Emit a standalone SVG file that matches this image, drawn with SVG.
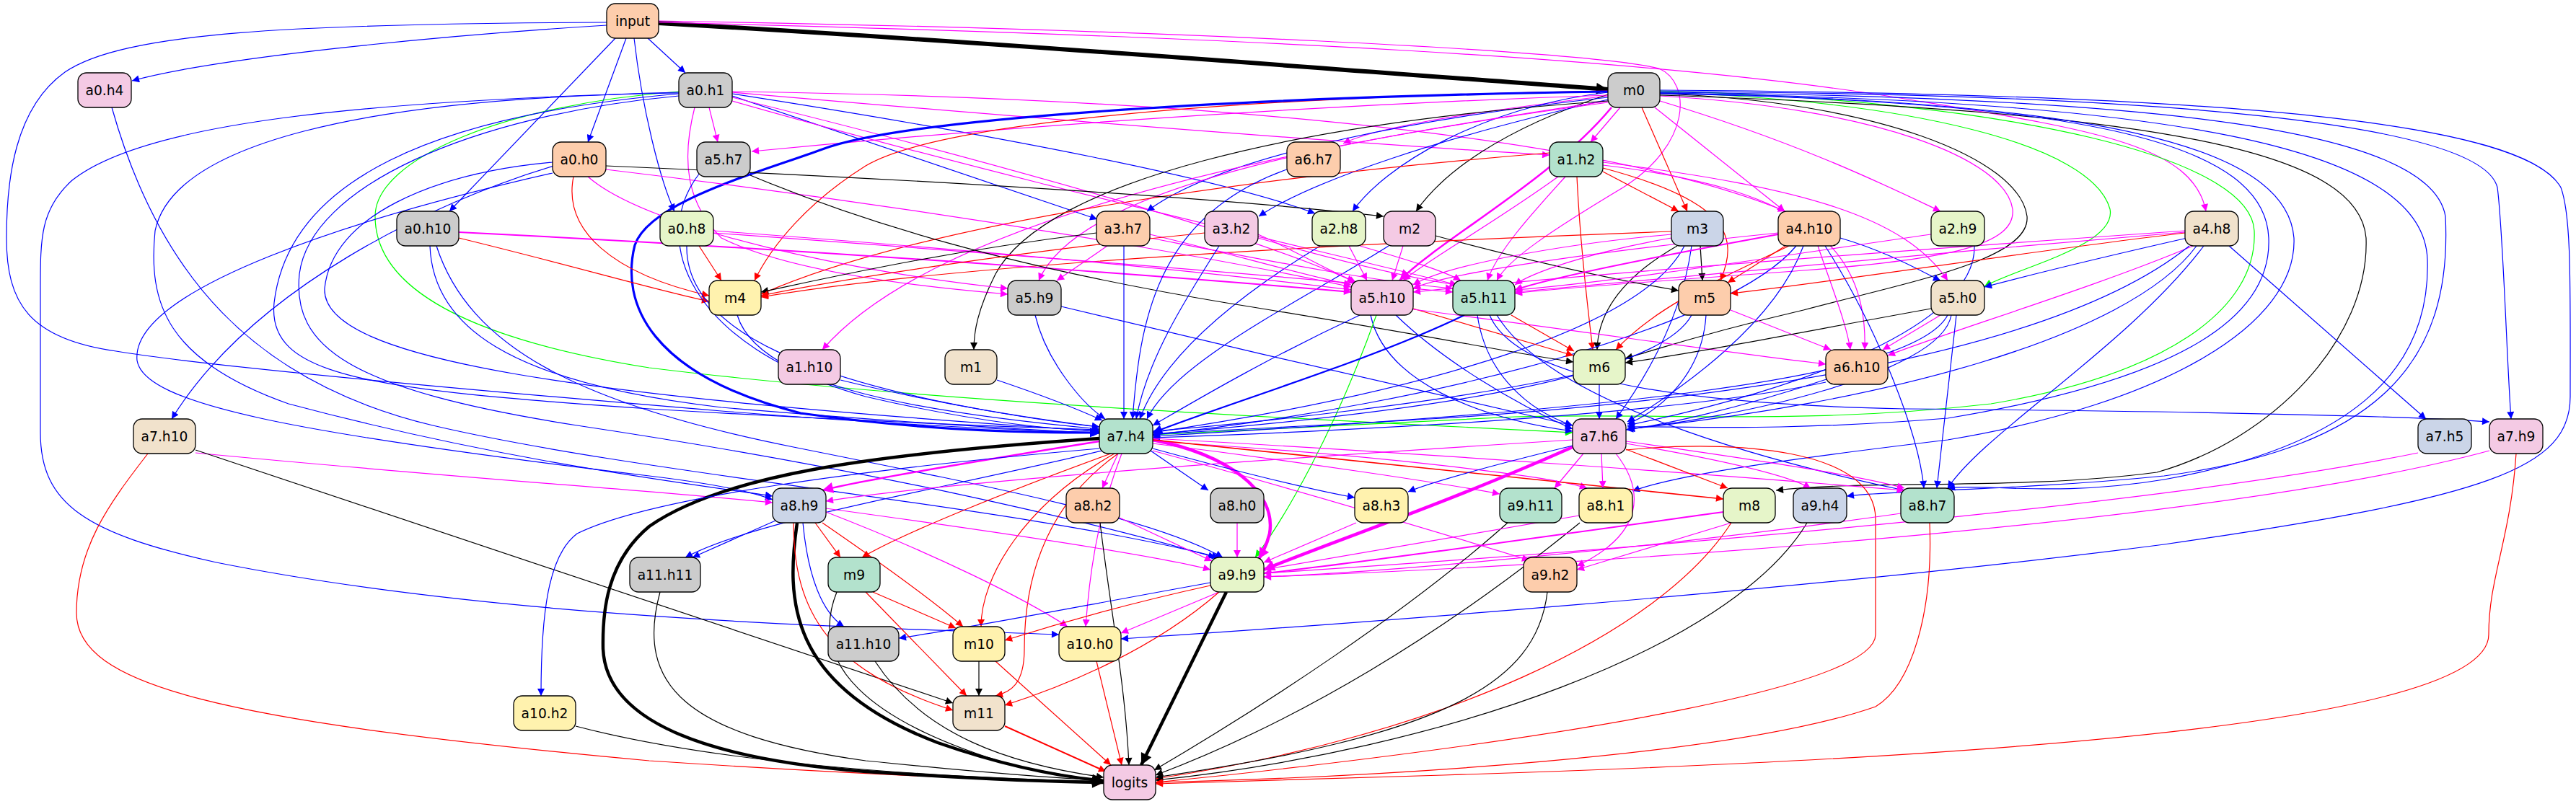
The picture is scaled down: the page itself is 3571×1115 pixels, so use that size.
<svg xmlns="http://www.w3.org/2000/svg" width="3571" height="1115" viewBox="0 0 3571 1115">
<style>
.e{fill:none;stroke-width:1.2}
.k{stroke:#000;marker-end:url(#ak)}
.b{stroke:#0000ff;marker-end:url(#ab)}
.r{stroke:#ff0000;marker-end:url(#ar)}
.m{stroke:#ff00ff;marker-end:url(#am)}
.g{stroke:#00ff00;marker-end:url(#ag)}
.K{marker-end:url(#AK)}
.B{marker-end:url(#AB)}
.M{marker-end:url(#AM)}
.n rect{stroke:#000;stroke-width:1.3}
.n text{font-family:"DejaVu Sans","Liberation Sans",sans-serif;font-size:18.67px;text-anchor:middle;fill:#000}
.c1{fill:#fdcdac}.c2{fill:#cccccc}.c3{fill:#f4cae4}.c4{fill:#b3e2cd}
.c5{fill:#e6f5c9}.c6{fill:#cbd5e8}.c7{fill:#f1e2cc}.c8{fill:#fff2ae}
</style>
<defs>
<marker id="ak" viewBox="0 0 10 10" refX="10" refY="5" markerWidth="13" markerHeight="10" markerUnits="userSpaceOnUse" orient="auto"><path d="M0,0L10,5L0,10z" fill="#000"/></marker>
<marker id="ab" viewBox="0 0 10 10" refX="10" refY="5" markerWidth="13" markerHeight="10" markerUnits="userSpaceOnUse" orient="auto"><path d="M0,0L10,5L0,10z" fill="#0000ff"/></marker>
<marker id="ar" viewBox="0 0 10 10" refX="10" refY="5" markerWidth="13" markerHeight="10" markerUnits="userSpaceOnUse" orient="auto"><path d="M0,0L10,5L0,10z" fill="#ff0000"/></marker>
<marker id="am" viewBox="0 0 10 10" refX="10" refY="5" markerWidth="13" markerHeight="10" markerUnits="userSpaceOnUse" orient="auto"><path d="M0,0L10,5L0,10z" fill="#ff00ff"/></marker>
<marker id="ag" viewBox="0 0 10 10" refX="10" refY="5" markerWidth="13" markerHeight="10" markerUnits="userSpaceOnUse" orient="auto"><path d="M0,0L10,5L0,10z" fill="#00ff00"/></marker>
<marker id="AK" viewBox="0 0 10 10" refX="10" refY="5" markerWidth="22" markerHeight="16" markerUnits="userSpaceOnUse" orient="auto"><path d="M0,0L10,5L0,10z" fill="#000"/></marker>
<marker id="AB" viewBox="0 0 10 10" refX="10" refY="5" markerWidth="18" markerHeight="13" markerUnits="userSpaceOnUse" orient="auto"><path d="M0,0L10,5L0,10z" fill="#0000ff"/></marker>
<marker id="AM" viewBox="0 0 10 10" refX="10" refY="5" markerWidth="20" markerHeight="15" markerUnits="userSpaceOnUse" orient="auto"><path d="M0,0L10,5L0,10z" fill="#ff00ff"/></marker>
</defs>
<rect width="3571" height="1115" fill="#fff"/>
<g id="edges">
<path class="e k K" style="stroke-width:6" d="M913,32 C1400,60 1900,100 2229,124"/>
<path class="e b" d="M898,53 L950,101"/>
<path class="e b" d="M841,35 C600,50 300,80 183,112"/>
<path class="e b" d="M868,53 L815,197"/>
<path class="e b" d="M853,53 L623,293"/>
<path class="e b" d="M879,53 C890,150 915,250 935,293"/>
<path class="e b" d="M841,31 C400,33 170,45 90,100 C20,150 9,250 9,330 C9,420 40,470 161,487 C300,510 700,545 1000,570 C1250,590 1400,596 1524,600"/>
<path class="e m" d="M913,29 C1600,40 2200,70 2300,95 C2345,115 2345,200 2250,260 C2150,320 2090,360 2075,389"/>
<path class="e m" d="M913,31 C1700,50 2300,80 2640,137 C2900,180 3040,200 3058,293"/>
<path class="e b" d="M155,149 C220,380 350,530 600,590 C900,660 1400,700 1690,773"/>
<path class="e m" d="M983,149 L995,197"/>
<path class="e b" d="M1015,133 L1521,304"/>
<path class="e b" d="M1015,130 C1400,190 1700,250 1823,296"/>
<path class="e m" d="M1015,128 C1500,170 1900,200 2148,215"/>
<path class="e m" d="M1015,127 C1600,135 2200,180 2475,293"/>
<path class="e m" d="M1015,135 C1400,230 1750,330 1880,392"/>
<path class="e m" d="M1015,140 C1400,250 1800,340 2020,395"/>
<path class="e g" d="M941,127 C700,145 520,220 520,300 C520,400 650,470 900,510 C1300,560 1900,585 2180,600"/>
<path class="e b" d="M941,128 C500,140 200,170 100,250 C56,290 56,330 56,400 L56,600 C56,700 120,740 300,780 C700,860 1200,870 1468,880"/>
<path class="e b" d="M941,130 C600,160 400,250 380,420 C370,520 500,540 900,567 C1200,585 1400,592 1524,596"/>
<path class="e b" d="M941,129 C500,135 240,200 215,320 C205,420 230,500 400,560 C700,640 950,670 1071,688"/>
<path class="e b" d="M941,133 C650,160 430,260 415,380 C405,480 480,540 800,590 C1200,650 1500,720 1685,773"/>
<path class="e m" d="M963,149 C945,220 950,280 1000,330 C1100,380 1300,400 1397,408"/>
<path class="e m" d="M2229,133 C2000,160 1900,180 1862,199"/>
<path class="e m" d="M2246,149 L2205,197"/>
<path class="e b" d="M2229,128 C2050,150 1920,230 1875,293"/>
<path class="e k" d="M2229,131 C2080,180 2000,240 1963,293"/>
<path class="e r" d="M2276,149 L2339,293"/>
<path class="e m" d="M2294,149 L2474,293"/>
<path class="e m" d="M2301,140 C2500,200 2620,260 2690,293"/>
<path class="e b" d="M2229,135 C2000,160 1700,210 1590,293"/>
<path class="e b" d="M2229,138 C2000,190 1820,250 1745,300"/>
<path class="e m" d="M2229,132 C1700,150 1250,190 1042,210"/>
<path class="e r" d="M2229,126 C1700,135 1300,170 1200,230 C1120,280 1070,340 1046,389"/>
<path class="e m" d="M2229,140 C1900,190 1500,250 1440,389"/>
<path class="e m" d="M2229,142 C1800,200 1300,300 1140,485"/>
<path class="e k" d="M2229,140 C1800,170 1450,250 1380,380 C1355,430 1350,460 1350,485"/>
<path class="e b B" style="stroke-width:3.2" d="M2229,127 C1700,135 1250,165 1140,207 C1050,240 900,280 880,340 C860,420 900,520 1110,573 C1300,600 1450,600 1524,600"/>
<path class="e m M" style="stroke-width:2.5" d="M2234,149 C2150,250 2000,330 1940,389"/>
<path class="e m" d="M2301,133 C2600,150 2780,220 2790,290 C2795,340 2700,360 2500,375 C2300,390 2150,400 2100,407"/>
<path class="e k" d="M2301,130 C2600,140 2800,220 2810,300 C2815,360 2650,390 2500,430 C2350,465 2280,490 2253,497"/>
<path class="e g" d="M2301,128 C2650,140 2900,200 2925,290 C2935,340 2800,370 2751,397"/>
<path class="e g" d="M2301,126 C2800,140 3120,220 3125,320 C3130,430 3000,520 2760,560 C2500,590 2300,572 2100,578 C1900,588 1700,598 1598,603"/>
<path class="e k" d="M2301,132 C3000,155 3270,210 3280,330 C3285,470 3150,610 2990,655 C2800,680 2600,665 2462,680"/>
<path class="e b" d="M2301,129 C3000,140 3360,200 3365,360 C3370,520 3250,620 3000,665 C2850,690 2750,670 2700,677"/>
<path class="e b" d="M2301,127 C3000,130 3440,170 3462,260 C3470,320 3475,500 3481,581"/>
<path class="e b" d="M2301,125 C3100,130 3500,170 3550,260 C3565,300 3563,400 3563,550 C3563,650 3450,690 3000,755 C2500,820 1800,870 1554,886"/>
<path class="e b" d="M2301,128 C3000,135 3370,180 3390,300 C3400,500 3300,620 3000,660 C2800,680 2620,680 2560,688"/>
<path class="e b" d="M2301,129 C2900,140 3170,200 3180,330 C3185,450 3000,560 2700,610 C2450,640 2320,660 2263,681"/>
<path class="e b" d="M2301,130 C2900,140 3140,200 3145,330 C3150,450 3000,530 2700,580 C2450,600 2320,590 2256,592"/>
<path class="e m" d="M2222,225 C2500,260 2640,300 2700,389"/>
<path class="e r" d="M2222,238 L2327,293"/>
<path class="e r" d="M2222,233 C2400,280 2410,330 2385,389"/>
<path class="e r" d="M2186,245 C2190,330 2200,420 2208,485"/>
<path class="e r" d="M2148,212 C1800,240 1300,300 1055,408"/>
<path class="e m" d="M2160,245 C2070,310 1980,360 1945,389"/>
<path class="e m" d="M2170,245 C2120,300 2075,350 2062,389"/>
<path class="e m" d="M2222,229 C2480,260 2590,330 2585,485"/>
<path class="e m" d="M1870,341 L1895,389"/>
<path class="e m" d="M1885,341 C1950,360 2000,375 2025,389"/>
<path class="e b" d="M1830,341 C1700,420 1610,500 1580,581"/>
<path class="e k" d="M1990,327 C2150,370 2250,390 2327,403"/>
<path class="e m" d="M1945,341 L1930,389"/>
<path class="e b" d="M1925,341 C1800,420 1630,500 1590,581"/>
<path class="e k" d="M2357,341 L2360,389"/>
<path class="e k" d="M2325,341 C2240,390 2215,440 2214,485"/>
<path class="e m" d="M2317,325 C2150,340 2000,370 1959,395"/>
<path class="e m" d="M2317,330 C2200,350 2120,380 2100,395"/>
<path class="e r" d="M2317,321 C1800,340 1300,370 1055,412"/>
<path class="e b" d="M2335,341 C2280,450 2000,540 1598,600"/>
<path class="e b" d="M2345,341 C2330,450 2270,540 2240,581"/>
<path class="e r" d="M2475,341 L2395,392"/>
<path class="e r" d="M2480,341 C2400,380 2300,420 2240,485"/>
<path class="e m" d="M2465,323 C2200,350 2000,380 1959,400"/>
<path class="e m" style="stroke-width:2" d="M2465,325 C2300,355 2150,385 2100,402"/>
<path class="e m" d="M2520,341 C2540,400 2560,450 2565,485"/>
<path class="e b" d="M2551,330 C2620,350 2670,380 2690,389"/>
<path class="e b" d="M2490,341 C2400,450 2000,560 1598,603"/>
<path class="e b" d="M2500,341 C2460,450 2330,540 2256,585"/>
<path class="e b" d="M2530,341 C2600,450 2660,600 2667,677"/>
<path class="e m" d="M2677,325 C2500,350 2250,390 2100,402"/>
<path class="e b" d="M2737,341 C2740,450 2500,540 2256,590"/>
<path class="e r" d="M3029,323 C2800,350 2550,390 2399,407"/>
<path class="e m" d="M3029,320 C2600,350 2200,380 1959,405"/>
<path class="e m" d="M3029,322 C2700,350 2300,385 2100,405"/>
<path class="e b" d="M3032,330 C2900,360 2800,385 2751,398"/>
<path class="e m" d="M3040,341 C2900,400 2700,460 2617,493"/>
<path class="e b" d="M3035,341 C2900,450 2600,540 2000,580 C1800,592 1650,598 1598,603"/>
<path class="e b" d="M3045,341 C2950,470 2600,560 2256,595"/>
<path class="e b" d="M3055,341 C2950,480 2750,600 2700,677"/>
<path class="e b" d="M3090,341 L3363,581"/>
<path class="e r" d="M636,330 C800,370 900,400 983,418"/>
<path class="e m" style="stroke-width:2" d="M636,322 C1200,350 1700,390 1873,405"/>
<path class="e b" d="M596,341 C600,450 700,530 1000,565 C1300,590 1450,597 1524,601"/>
<path class="e b" d="M605,341 C650,480 800,560 1100,620 C1400,680 1600,720 1695,773"/>
<path class="e r" d="M795,245 C780,320 850,380 983,410"/>
<path class="e k" d="M840,230 C1300,250 1700,275 1918,300"/>
<path class="e m" d="M840,235 C1300,290 1700,360 1873,398"/>
<path class="e m" d="M815,245 C900,320 1200,380 1397,400"/>
<path class="e b" d="M768,230 C600,280 350,400 238,581"/>
<path class="e b" d="M766,240 C500,300 180,400 190,500 C200,560 400,600 900,660 C1000,672 1050,685 1071,693"/>
<path class="e b" d="M766,225 C600,240 460,300 450,400 C445,500 800,550 1524,598"/>
<path class="e r" d="M969,341 L1000,389"/>
<path class="e m" d="M989,320 C1400,350 1700,380 1873,402"/>
<path class="e m" d="M989,323 C1500,360 1850,390 2014,405"/>
<path class="e b" d="M952,341 C950,450 1100,540 1524,592"/>
<path class="e k" d="M1040,243 C1200,310 1400,370 1700,420 C1950,460 2100,490 2181,502"/>
<path class="e b" d="M970,240 C900,330 950,480 1200,550 C1350,585 1450,595 1524,598"/>
<path class="e k" d="M1520,323 C1300,350 1150,385 1055,405"/>
<path class="e m" d="M1594,325 C1700,350 1800,380 1873,395"/>
<path class="e m" d="M1594,330 C1750,360 1900,390 2014,400"/>
<path class="e m" d="M1535,341 L1465,389"/>
<path class="e b" d="M1558,341 L1558,581"/>
<path class="e r" d="M1670,323 C1400,350 1150,390 1055,410"/>
<path class="e m" d="M1744,325 C1800,350 1850,380 1878,390"/>
<path class="e m" d="M1744,330 C1850,360 1950,385 2020,395"/>
<path class="e b" d="M1690,341 C1640,420 1590,500 1575,581"/>
<path class="e b" d="M1784,235 C1600,300 1580,450 1570,581"/>
<path class="e b" d="M1022,437 C1050,530 1250,570 1524,595"/>
<path class="e b" d="M1435,437 C1450,500 1500,560 1532,581"/>
<path class="e b" d="M1471,425 C1700,480 2000,550 2180,590"/>
<path class="e b" d="M1165,527 C1300,560 1450,585 1524,592"/>
<path class="e b" d="M1382,527 C1450,550 1500,570 1528,583"/>
<path class="e r" d="M1959,428 L2181,493"/>
<path class="e m" d="M1959,429 C2200,460 2400,490 2531,505"/>
<path class="e b" d="M1885,437 C1750,500 1650,560 1598,590"/>
<path class="e b" d="M1900,437 C1920,530 2050,580 2180,598"/>
<path class="e b" d="M1935,437 C2000,500 2100,560 2180,595"/>
<path class="e g" d="M1908,437 C1850,600 1780,720 1740,773"/>
<path class="e r" d="M2095,437 L2182,487"/>
<path class="e b B" style="stroke-width:2.2" d="M2030,437 C1900,500 1700,560 1598,600"/>
<path class="e b" d="M2048,437 C2060,520 2120,570 2180,590"/>
<path class="e b" d="M2075,437 C2150,560 2450,640 2640,680"/>
<path class="e b" d="M2065,437 C2100,520 2300,560 2640,567 C3000,570 3300,575 3451,585"/>
<path class="e m" d="M2399,430 L2538,485"/>
<path class="e b" d="M2345,437 C2300,520 2000,570 1598,602"/>
<path class="e b" d="M2365,437 C2360,520 2300,570 2256,588"/>
<path class="e k" d="M2677,428 C2500,460 2350,490 2253,503"/>
<path class="e m" d="M2690,437 L2610,485"/>
<path class="e b" d="M2700,437 C2650,530 2200,570 1598,605"/>
<path class="e b" d="M2705,437 C2690,520 2400,580 2256,595"/>
<path class="e b" d="M2712,437 L2685,677"/>
<path class="e b" d="M2217,533 L2217,581"/>
<path class="e b" d="M2181,520 C2000,560 1700,590 1598,598"/>
<path class="e b" d="M2535,525 C2400,570 2300,590 2254,596"/>
<path class="e b" d="M2531,530 C2300,580 1800,600 1598,607"/>
<path class="e m" d="M271,628 C600,660 900,680 1071,697"/>
<path class="e k" d="M271,624 L1321,975"/>
<path class="e r" d="M205,629 C150,700 106,760 106,850 C106,950 300,1000 900,1055 C1200,1075 1400,1082 1530,1085"/>
<path class="e k K" style="stroke-width:4.5" d="M1524,608 C1200,630 1000,660 900,730 C840,780 835,850 836,900 C840,990 950,1050 1200,1070 C1350,1080 1450,1084 1530,1085"/>
<path class="e m M" style="stroke-width:2.5" d="M1524,612 C1350,640 1200,665 1140,680"/>
<path class="e m M" style="stroke-width:4.5" d="M1598,610 C1700,630 1770,680 1760,740 C1755,760 1748,770 1745,775"/>
<path class="e m" d="M1550,629 L1528,677"/>
<path class="e b" d="M1595,625 L1675,680"/>
<path class="e b" d="M1598,622 C1700,650 1820,680 1878,690"/>
<path class="e m" d="M1598,615 C1800,640 2000,670 2079,685"/>
<path class="e m" d="M1598,612 C1900,630 2150,660 2200,677"/>
<path class="e r" style="stroke-width:1.6" d="M1598,610 C1900,640 2200,670 2389,692"/>
<path class="e m" d="M1598,608 C2000,630 2400,660 2640,680"/>
<path class="e b" d="M1528,625 C1300,680 1050,720 950,773"/>
<path class="e r" d="M1540,629 C1400,680 1250,740 1195,773"/>
<path class="e r" d="M1545,629 C1420,700 1360,800 1360,869"/>
<path class="e m" d="M1555,629 C1520,720 1510,800 1505,869"/>
<path class="e r" d="M1550,629 C1450,700 1420,800 1420,900 C1420,950 1400,960 1380,965"/>
<path class="e b" d="M1524,622 C1200,650 900,690 800,740 C760,770 750,850 750,965"/>
<path class="e m" d="M1598,625 C1800,680 2000,740 2120,777"/>
<path class="e m M" style="stroke-width:4.5" d="M2180,620 C2000,700 1850,750 1752,790"/>
<path class="e b" d="M2180,618 C2050,650 1980,670 1952,682"/>
<path class="e m" d="M2195,629 L2155,677"/>
<path class="e m" d="M2220,629 L2222,677"/>
<path class="e r" d="M2254,623 L2395,677"/>
<path class="e m" d="M2254,615 C2400,640 2480,660 2510,677"/>
<path class="e m" d="M2254,612 C2450,640 2580,660 2640,677"/>
<path class="e m" d="M2240,629 C2280,680 2280,740 2186,785"/>
<path class="e r" d="M2254,624 C2400,610 2600,620 2600,720 L2600,880 C2600,950 2200,1020 1700,1075 C1650,1080 1620,1083 1602,1085"/>
<path class="e m" d="M2180,610 C1700,640 1300,670 1145,695"/>
<path class="e m" d="M3352,628 C3000,700 2300,760 1752,795"/>
<path class="e m" d="M3451,625 C3100,720 2300,780 1752,800"/>
<path class="e r" d="M3488,629 C3480,750 3450,800 3450,880 C3450,1000 2800,1050 2000,1075 C1800,1082 1650,1085 1602,1087"/>
<path class="e k K" style="stroke-width:4.5" d="M1105,725 C1090,830 1090,950 1300,1030 C1400,1065 1480,1078 1530,1083"/>
<path class="e b" d="M1075,722 L960,773"/>
<path class="e r" d="M1130,725 L1165,773"/>
<path class="e b" d="M1113,725 C1120,800 1140,850 1170,869"/>
<path class="e r" d="M1140,725 C1220,780 1290,830 1335,869"/>
<path class="e m" d="M1145,710 C1300,770 1420,830 1480,869"/>
<path class="e m" d="M1145,705 C1400,740 1600,770 1678,790"/>
<path class="e r" d="M1100,725 C1100,850 1150,930 1321,985"/>
<path class="e k" d="M1525,725 C1540,850 1560,950 1565,1061"/>
<path class="e m" d="M1552,718 L1680,778"/>
<path class="e m" d="M1715,725 L1715,773"/>
<path class="e m" d="M1880,725 L1752,780"/>
<path class="e k" d="M2090,725 C1950,850 1750,980 1600,1068"/>
<path class="e m" d="M2189,715 L1752,790"/>
<path class="e k" d="M2190,725 C2000,880 1800,1000 1602,1075"/>
<path class="e m" style="stroke-width:2" d="M2389,710 C2100,750 1850,785 1752,795"/>
<path class="e m" d="M2400,725 L2186,790"/>
<path class="e r" d="M2400,725 C2300,880 2000,1020 1602,1080"/>
<path class="e k" d="M2505,725 C2400,900 2000,1040 1602,1082"/>
<path class="e m" d="M2635,712 C2300,760 1900,795 1752,800"/>
<path class="e r" d="M2675,725 C2680,850 2650,950 2600,980 C2400,1050 1900,1078 1602,1085"/>
<path class="e k K" style="stroke-width:4.5" d="M1700,821 L1582,1061"/>
<path class="e b" d="M1678,808 C1500,840 1350,870 1246,885"/>
<path class="e r" d="M1678,812 C1550,840 1450,870 1393,888"/>
<path class="e m" d="M1690,821 L1554,878"/>
<path class="e r" d="M1690,821 C1600,900 1480,950 1393,978"/>
<path class="e r" d="M1210,821 L1325,871"/>
<path class="e r" d="M1200,821 L1340,965"/>
<path class="e k" d="M1160,821 C1120,920 1200,1000 1400,1060 C1470,1075 1510,1080 1530,1084"/>
<path class="e k" d="M2145,821 C2130,950 2000,1020 1602,1078"/>
<path class="e k" d="M915,821 C880,950 950,1020 1200,1055 C1400,1075 1480,1080 1530,1082"/>
<path class="e k" d="M1213,917 C1280,1020 1400,1060 1530,1078"/>
<path class="e k" d="M1357,917 L1357,965"/>
<path class="e r" d="M1380,917 L1540,1061"/>
<path class="e r" d="M1520,917 L1555,1061"/>
<path class="e r" style="stroke-width:2" d="M1393,1007 L1533,1070"/>
<path class="e k" d="M798,1007 C1000,1060 1300,1078 1530,1084"/>
</g>
<g id="input" class="n"><rect class="c1" x="841" y="5" width="72" height="48" rx="12"/><text x="877" y="36">input</text></g>
<g id="a0.h4" class="n"><rect class="c3" x="108" y="101" width="74" height="48" rx="12"/><text x="145" y="132">a0.h4</text></g>
<g id="a0.h1" class="n"><rect class="c2" x="941" y="101" width="74" height="48" rx="12"/><text x="978" y="132">a0.h1</text></g>
<g id="m0" class="n"><rect class="c2" x="2229" y="101" width="72" height="48" rx="12"/><text x="2265" y="132">m0</text></g>
<g id="a0.h0" class="n"><rect class="c1" x="766" y="197" width="74" height="48" rx="12"/><text x="803" y="228">a0.h0</text></g>
<g id="a5.h7" class="n"><rect class="c2" x="966" y="197" width="74" height="48" rx="12"/><text x="1003" y="228">a5.h7</text></g>
<g id="a6.h7" class="n"><rect class="c1" x="1784" y="197" width="74" height="48" rx="12"/><text x="1821" y="228">a6.h7</text></g>
<g id="a1.h2" class="n"><rect class="c4" x="2148" y="197" width="74" height="48" rx="12"/><text x="2185" y="228">a1.h2</text></g>
<g id="a0.h10" class="n"><rect class="c2" x="550" y="293" width="86" height="48" rx="12"/><text x="593" y="324">a0.h10</text></g>
<g id="a0.h8" class="n"><rect class="c5" x="915" y="293" width="74" height="48" rx="12"/><text x="952" y="324">a0.h8</text></g>
<g id="a3.h7" class="n"><rect class="c1" x="1520" y="293" width="74" height="48" rx="12"/><text x="1557" y="324">a3.h7</text></g>
<g id="a3.h2" class="n"><rect class="c3" x="1670" y="293" width="74" height="48" rx="12"/><text x="1707" y="324">a3.h2</text></g>
<g id="a2.h8" class="n"><rect class="c5" x="1819" y="293" width="74" height="48" rx="12"/><text x="1856" y="324">a2.h8</text></g>
<g id="m2" class="n"><rect class="c3" x="1918" y="293" width="72" height="48" rx="12"/><text x="1954" y="324">m2</text></g>
<g id="m3" class="n"><rect class="c6" x="2317" y="293" width="72" height="48" rx="12"/><text x="2353" y="324">m3</text></g>
<g id="a4.h10" class="n"><rect class="c1" x="2465" y="293" width="86" height="48" rx="12"/><text x="2508" y="324">a4.h10</text></g>
<g id="a2.h9" class="n"><rect class="c5" x="2677" y="293" width="74" height="48" rx="12"/><text x="2714" y="324">a2.h9</text></g>
<g id="a4.h8" class="n"><rect class="c7" x="3029" y="293" width="74" height="48" rx="12"/><text x="3066" y="324">a4.h8</text></g>
<g id="m4" class="n"><rect class="c8" x="983" y="389" width="72" height="48" rx="12"/><text x="1019" y="420">m4</text></g>
<g id="a5.h9" class="n"><rect class="c2" x="1397" y="389" width="74" height="48" rx="12"/><text x="1434" y="420">a5.h9</text></g>
<g id="a5.h10" class="n"><rect class="c3" x="1873" y="389" width="86" height="48" rx="12"/><text x="1916" y="420">a5.h10</text></g>
<g id="a5.h11" class="n"><rect class="c4" x="2014" y="389" width="86" height="48" rx="12"/><text x="2057" y="420">a5.h11</text></g>
<g id="m5" class="n"><rect class="c1" x="2327" y="389" width="72" height="48" rx="12"/><text x="2363" y="420">m5</text></g>
<g id="a5.h0" class="n"><rect class="c7" x="2677" y="389" width="74" height="48" rx="12"/><text x="2714" y="420">a5.h0</text></g>
<g id="a1.h10" class="n"><rect class="c3" x="1079" y="485" width="86" height="48" rx="12"/><text x="1122" y="516">a1.h10</text></g>
<g id="m1" class="n"><rect class="c7" x="1310" y="485" width="72" height="48" rx="12"/><text x="1346" y="516">m1</text></g>
<g id="m6" class="n"><rect class="c5" x="2181" y="485" width="72" height="48" rx="12"/><text x="2217" y="516">m6</text></g>
<g id="a6.h10" class="n"><rect class="c1" x="2531" y="485" width="86" height="48" rx="12"/><text x="2574" y="516">a6.h10</text></g>
<g id="a7.h10" class="n"><rect class="c7" x="185" y="581" width="86" height="48" rx="12"/><text x="228" y="612">a7.h10</text></g>
<g id="a7.h4" class="n"><rect class="c4" x="1524" y="581" width="74" height="48" rx="12"/><text x="1561" y="612">a7.h4</text></g>
<g id="a7.h6" class="n"><rect class="c3" x="2180" y="581" width="74" height="48" rx="12"/><text x="2217" y="612">a7.h6</text></g>
<g id="a7.h5" class="n"><rect class="c6" x="3352" y="581" width="74" height="48" rx="12"/><text x="3389" y="612">a7.h5</text></g>
<g id="a7.h9" class="n"><rect class="c3" x="3451" y="581" width="74" height="48" rx="12"/><text x="3488" y="612">a7.h9</text></g>
<g id="a8.h9" class="n"><rect class="c6" x="1071" y="677" width="74" height="48" rx="12"/><text x="1108" y="708">a8.h9</text></g>
<g id="a8.h2" class="n"><rect class="c1" x="1478" y="677" width="74" height="48" rx="12"/><text x="1515" y="708">a8.h2</text></g>
<g id="a8.h0" class="n"><rect class="c2" x="1678" y="677" width="74" height="48" rx="12"/><text x="1715" y="708">a8.h0</text></g>
<g id="a8.h3" class="n"><rect class="c8" x="1878" y="677" width="74" height="48" rx="12"/><text x="1915" y="708">a8.h3</text></g>
<g id="a9.h11" class="n"><rect class="c4" x="2079" y="677" width="86" height="48" rx="12"/><text x="2122" y="708">a9.h11</text></g>
<g id="a8.h1" class="n"><rect class="c8" x="2189" y="677" width="74" height="48" rx="12"/><text x="2226" y="708">a8.h1</text></g>
<g id="m8" class="n"><rect class="c5" x="2389" y="677" width="72" height="48" rx="12"/><text x="2425" y="708">m8</text></g>
<g id="a9.h4" class="n"><rect class="c6" x="2486" y="677" width="74" height="48" rx="12"/><text x="2523" y="708">a9.h4</text></g>
<g id="a8.h7" class="n"><rect class="c4" x="2635" y="677" width="74" height="48" rx="12"/><text x="2672" y="708">a8.h7</text></g>
<g id="a11.h11" class="n"><rect class="c2" x="873" y="773" width="98" height="48" rx="12"/><text x="922" y="804">a11.h11</text></g>
<g id="m9" class="n"><rect class="c4" x="1148" y="773" width="72" height="48" rx="12"/><text x="1184" y="804">m9</text></g>
<g id="a9.h9" class="n"><rect class="c5" x="1678" y="773" width="74" height="48" rx="12"/><text x="1715" y="804">a9.h9</text></g>
<g id="a9.h2" class="n"><rect class="c1" x="2112" y="773" width="74" height="48" rx="12"/><text x="2149" y="804">a9.h2</text></g>
<g id="a11.h10" class="n"><rect class="c2" x="1148" y="869" width="98" height="48" rx="12"/><text x="1197" y="900">a11.h10</text></g>
<g id="m10" class="n"><rect class="c8" x="1321" y="869" width="72" height="48" rx="12"/><text x="1357" y="900">m10</text></g>
<g id="a10.h0" class="n"><rect class="c8" x="1468" y="869" width="86" height="48" rx="12"/><text x="1511" y="900">a10.h0</text></g>
<g id="a10.h2" class="n"><rect class="c8" x="712" y="965" width="86" height="48" rx="12"/><text x="755" y="996">a10.h2</text></g>
<g id="m11" class="n"><rect class="c7" x="1321" y="965" width="72" height="48" rx="12"/><text x="1357" y="996">m11</text></g>
<g id="logits" class="n"><rect class="c3" x="1530" y="1061" width="72" height="48" rx="12"/><text x="1566" y="1092">logits</text></g>
</svg>
